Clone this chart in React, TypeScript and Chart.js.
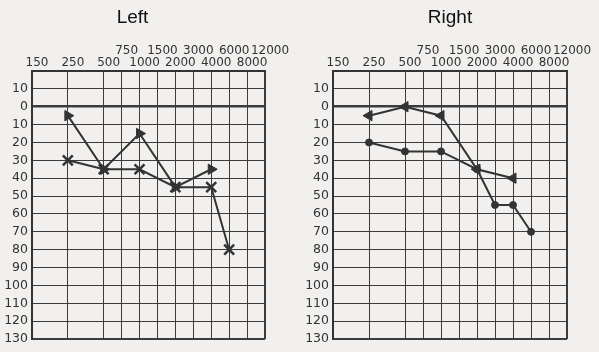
import React, { useEffect, useRef } from 'react';
import { Chart, registerables } from 'chart.js';

Chart.register(...registerables);

// Frequency axis (Hz) and their positions on the audiogram axis
const freqLabels = [150, 250, 500, 750, 1000, 1500, 2000, 3000, 4000, 6000, 8000, 12000];
const freqPositions = [0, 2, 4, 5, 6, 7, 8, 9, 10, 11, 12, 13];
const upperRowFreqs = [750, 1500, 3000, 6000, 12000];

// Hearing level axis (dB)
const dbTicks = [-20, -10, 0, 10, 20, 30, 40, 50, 60, 70, 80, 90, 100, 110, 120, 130];
const dbTickLabels = ['', '10', '0', '10', '20', '30', '40', '50', '60', '70', '80', '90', '100', '110', '120', '130'];

// Left ear
const leftTriFreq = [250, 500, 1000, 2000, 4000];
const leftTriDb = [5, 35, 15, 45, 35];
const leftCrossFreq = [250, 500, 1000, 2000, 4000, 6000];
const leftCrossDb = [30, 35, 35, 45, 45, 80];

// Right ear
const rightTriFreq = [250, 500, 1000, 2000, 4000];
const rightTriDb = [5, 0, 5, 35, 40];
const rightCircleFreq = [250, 500, 1000, 2000, 3000, 4000, 6000];
const rightCircleDb = [20, 25, 25, 35, 55, 55, 70];

const INK = '#333333';
const BG = '#f1f0ee';
const X_TICK_FONT = { family: 'DejaVu Sans', size: 12, lineHeight: 0.98 };
const Y_TICK_FONT = { family: 'DejaVu Sans', size: 12.5 };

const posOf = (f: number) => freqPositions[freqLabels.indexOf(f)];
const toPoints = (freqs: number[], dbs: number[]) => freqs.map((f, i) => ({ x: posOf(f), y: dbs[i] }));

type PanelProps = {
  title: string;
  datasets: any[];
  padLeft: number;
  padRight: number;
  yWidth: number;
  width: number;
  left: number;
  titleFull: boolean;
};

function Panel({ title, datasets, padLeft, padRight, yWidth, width, left, titleFull }: PanelProps) {
  const ref = useRef<HTMLCanvasElement | null>(null);
  useEffect(() => {
    if (!ref.current) return;
    const chart = new Chart(ref.current, {
      type: 'line',
      data: { datasets },
      options: {
        animation: false,
        responsive: false,
        maintainAspectRatio: false,
        layout: { padding: { left: padLeft, right: padRight, top: 0, bottom: 13 } },
        plugins: {
          legend: { display: false },
          tooltip: { enabled: false },
          title: {
            display: true,
            fullSize: titleFull,
            text: title,
            color: '#111111',
            font: { family: 'Liberation Sans', size: 19, weight: 'normal', lineHeight: 1.2 },
            padding: { top: 6, bottom: 0 },
          },
        },
        scales: {
          x: {
            type: 'linear',
            position: 'top',
            min: 0,
            max: 13,
            afterFit: (s: any) => { s.height = 71 - 28.8; },
            afterBuildTicks: (s: any) => { s.ticks = freqPositions.map((v) => ({ value: v })); },
            ticks: {
              autoSkip: false,
              maxRotation: 0,
              minRotation: 0,
              padding: 2,
              labelOffset: 5,
              color: INK,
              font: X_TICK_FONT,
              callback: (value: any) => {
                const f = freqLabels[freqPositions.indexOf(Number(value))];
                return upperRowFreqs.includes(f) ? [String(f), ''] : ['', String(f)];
              },
            },
            grid: {
              drawTicks: false,
              color: '#3c3c3c',
              lineWidth: (ctx: any) => (ctx.tick && (ctx.tick.value === 0 || ctx.tick.value === 13) ? 2 : 1),
            },
            border: { display: true, color: INK, width: 2 },
          },
          y: {
            type: 'linear',
            reverse: true,
            min: -20,
            max: 130,
            afterFit: (s: any) => { s.width = yWidth; },
            afterBuildTicks: (s: any) => { s.ticks = dbTicks.map((v) => ({ value: v })); },
            ticks: {
              autoSkip: false,
              padding: 4,
              color: INK,
              font: Y_TICK_FONT,
              callback: (value: any) => dbTickLabels[dbTicks.indexOf(Number(value))],
            },
            grid: {
              drawTicks: false,
              color: '#3c3c3c',
              lineWidth: (ctx: any) => {
                const v = ctx.tick ? ctx.tick.value : null;
                if (v === 0) return 2.5;
                if (v === -20 || v === 130) return 2;
                return 1;
              },
            },
            border: { display: true, color: INK, width: 2 },
          },
        },
      },
    } as any);
    return () => chart.destroy();
  }, []);
  return (
    <canvas
      ref={ref}
      width={width}
      height={352}
      style={{ position: 'absolute', left, top: 0, width, height: 352 }}
    />
  );
}

const lineBase = {
  borderColor: INK,
  borderWidth: 2,
  pointBackgroundColor: INK,
  pointBorderColor: INK,
  fill: false,
  tension: 0,
};

export default function App() {
  useEffect(() => {
    document.body.style.margin = '0';
    document.body.style.background = BG;
  }, []);

  const leftDatasets = [
    { ...lineBase, label: 'Left ▶', data: toPoints(leftTriFreq, leftTriDb), pointStyle: 'triangle', pointRadius: 6, pointRotation: 90, pointBorderWidth: 1 },
    { ...lineBase, label: 'Left X', data: toPoints(leftCrossFreq, leftCrossDb), pointStyle: 'crossRot', pointRadius: 7, pointBorderWidth: 2.5 },
  ];
  const rightDatasets = [
    { ...lineBase, label: 'Right ◀', data: toPoints(rightTriFreq, rightTriDb), pointStyle: 'triangle', pointRadius: 6, pointRotation: -90, pointBorderWidth: 1 },
    { ...lineBase, label: 'Right O', data: toPoints(rightCircleFreq, rightCircleDb), pointStyle: 'circle', pointRadius: 3.5, pointBorderWidth: 1 },
  ];

  return (
    <div style={{ position: 'relative', width: 599, height: 352, background: BG, overflow: 'hidden' }}>
      <Panel title="Left" datasets={leftDatasets} padLeft={0} padRight={35} yWidth={32} width={300} left={0} titleFull={true} />
      <Panel title="Right" datasets={rightDatasets} padLeft={0} padRight={32} yWidth={33} width={299} left={300} titleFull={false} />
    </div>
  );
}
